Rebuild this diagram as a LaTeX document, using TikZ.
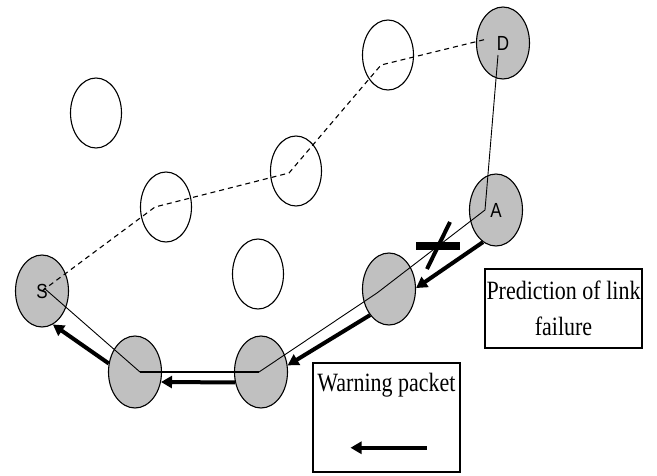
\documentclass[tikz,border=0pt]{standalone}
\usepackage{fontspec}
\setmainfont{Liberation Serif}
\newfontfamily\labelfont{Liberation Sans}
\usetikzlibrary{shapes.geometric,arrows.meta,positioning,calc}
\definecolor{nodegray}{RGB}{192,192,192}
\newcommand{\tallline}[1]{\scalebox{1}[1.2]{#1}}

\begin{document}
\begin{tikzpicture}[x=1pt,y=-1pt,
	host/.style={draw,ellipse,line width=1.1pt,minimum width=51pt,minimum height=70pt,inner sep=0pt,font=\labelfont\fontsize{17}{17}\selectfont},
	route/.style={host,fill=nodegray,minimum width=53pt,minimum height=72pt},
	link/.style={line width=0.9pt},
	oldpath/.style={line width=1.1pt,dash pattern=on 5pt off 4pt},
	warn/.style={line width=4pt,-{Triangle[length=11pt,width=12pt]}},
	infobox/.style={draw,line width=1.5pt,font=\fontsize{22}{36}\selectfont,align=center}]
	\useasboundingbox (0,0) rectangle (657,475);
	% hosts
	\node[host] (h1) at (388,55) {};
	\node[host] (h2) at (96,113) {};
	\node[host] (h3) at (296,171) {};
	\node[host] (h4) at (166,207) {};
	\node[host] (h5) at (258,274) {};
	% route
	\node[route] (D) at (503,43) {\tallline{D}};
	\node[route] (A) at (496,210) {\tallline{A}};
	\node[route] (r1) at (389,289) {};
	\node[route] (r2) at (261,372) {};
	\node[route] (r3) at (135,372) {};
	\node[route] (S) at (42,291) {\tallline{S}};
	% old path
	\draw[oldpath] (S.center) -- ([xshift=-11pt]h4.center) -- ([xshift=-7pt,yshift=-2pt]h3.center)
		-- ([xshift=-7pt,yshift=-10pt]h1.center) -- ([xshift=-16pt,yshift=4pt]D.center);
	% current path
	\draw[link] ([xshift=-5pt,yshift=-12pt]D.center) -- ([xshift=-11pt]A.center)
		-- ([xshift=-12pt,yshift=-4pt]r1.center) -- ([xshift=-2pt]r2.center);
	\draw[link,line width=1.8pt] ([xshift=-2pt]r2.center) -- ([xshift=5pt]r3.center);
	\draw[link] ([xshift=5pt]r3.center) -- ([xshift=2pt,yshift=3pt]S.center);
	% broken link
	\coordinate (cut) at (438,246);
	\draw[line width=8pt] ([xshift=-22pt]cut) -- ([xshift=22pt]cut);
	\draw[line width=4pt] ([xshift=12pt,yshift=24pt]cut) -- ([xshift=-11pt,yshift=-23pt]cut);
	% warning packets
	\draw[warn] (A.248) -- (r1.2);
	\draw[warn] (r1.234) -- (r2.14);
	\draw[warn] (r2.202) -- (r3.339);
	\draw[warn] (r3.162) -- (S.288);
	% legend
	\node[infobox,minimum width=157pt,minimum height=79pt,inner sep=1pt] (pred) at (563.5,308.5) {\tallline{Prediction of link}\\\tallline{failure}};
	\node[infobox,minimum width=147pt,minimum height=109pt] (wbox) at (386.5,417.5) {};
	\node[font=\fontsize{22}{26}\selectfont,below=7pt of wbox.north] (wtext) {\tallline{Warning packet}};
	\draw[warn] ([xshift=40pt,yshift=25pt]wbox.south) -- ([xshift=-36pt,yshift=25pt]wbox.south);
\end{tikzpicture}
\end{document}
